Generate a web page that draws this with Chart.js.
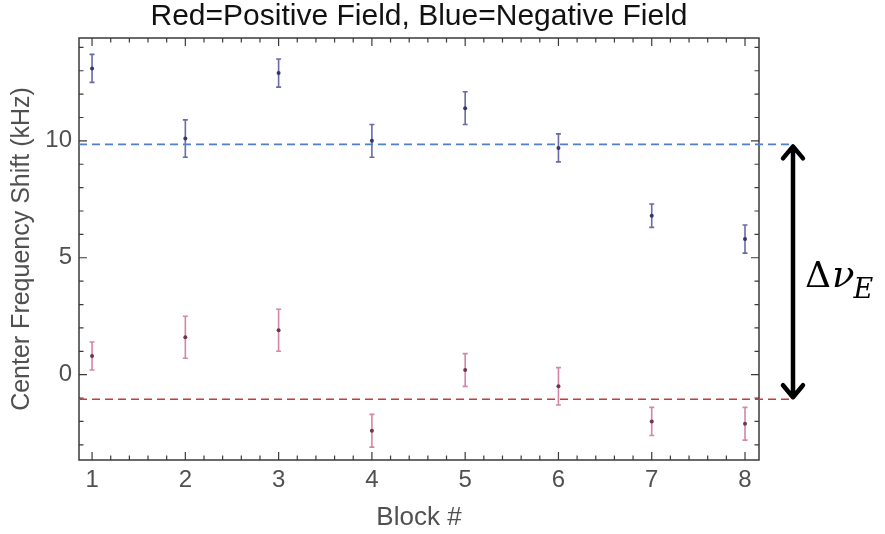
<!DOCTYPE html>
<html lang="en">
<head>
<meta charset="UTF-8" />
<title>Center Frequency Shift by Block</title>
<script src="https://cdn.jsdelivr.net/npm/chart.js"></script>
<style>
  html, body { margin: 0; padding: 0; background: #fff; }
  #wrap { width: 885px; height: 534px; }
</style>
</head>
<body>
<div id="wrap"><canvas id="shiftChart"></canvas></div>
<script>
  // data (kHz)
  const blocks = [1, 2, 3, 4, 5, 6, 7, 8];
  const negField = [13.1, 10.1, 12.9, 10.0, 11.4, 9.7, 6.8, 5.8];
  const negErr = [0.6, 0.8, 0.6, 0.7, 0.7, 0.6, 0.5, 0.6];
  const posField = [0.8, 1.6, 1.9, -2.4, 0.2, -0.5, -2.0, -2.1];
  const posErr = [0.6, 0.9, 0.9, 0.7, 0.7, 0.8, 0.6, 0.7];
  const negMean = 9.85;
  const posMean = -1.05;
  const xMajor = [1, 2, 3, 4, 5, 6, 7, 8];
  const yMajor = [0, 5, 10];

  const FRAME = '#3a3a3a';
  const TEXT = '#505050';
  const SANS = '"Liberation Sans", Arial, sans-serif';

  const toPoints = (vals) => blocks.map((b, i) => ({ x: b, y: vals[i] }));

  // error bars under the points
  const errorBars = {
    id: 'errorBars',
    beforeDatasetsDraw(chart) {
      const { ctx, scales: { x, y } } = chart;
      chart.data.datasets.forEach(ds => {
        if (!ds.errors) return;
        ctx.save();
        ctx.strokeStyle = ds.barColor;
        ctx.lineWidth = 1.6;
        ds.data.forEach((p, k) => {
          const px = x.getPixelForValue(p.x);
          const top = y.getPixelForValue(p.y + ds.errors[k]);
          const bot = y.getPixelForValue(p.y - ds.errors[k]);
          ctx.beginPath();
          ctx.moveTo(px, top); ctx.lineTo(px, bot);
          ctx.moveTo(px - 2.5, top); ctx.lineTo(px + 2.5, top);
          ctx.moveTo(px - 2.5, bot); ctx.lineTo(px + 2.5, bot);
          ctx.stroke();
        });
        ctx.restore();
      });
    }
  };

  // Mathematica-style frame with inward ticks on all sides
  const frame = {
    id: 'frame',
    beforeDatasetsDraw(chart) {
      const { ctx, chartArea: a, scales: { x, y } } = chart;
      ctx.save();
      ctx.strokeStyle = FRAME;
      ctx.lineWidth = 1.5;
      ctx.strokeRect(a.left, a.top, a.right - a.left, a.bottom - a.top);
      ctx.lineWidth = 1.2;
      ctx.beginPath();
      for (let k = Math.ceil(x.min * 5); k <= Math.floor(x.max * 5); k++) {
        const px = x.getPixelForValue(k / 5);
        const len = k % 5 === 0 ? 8 : 4.5;
        ctx.moveTo(px, a.bottom); ctx.lineTo(px, a.bottom - len);
        ctx.moveTo(px, a.top); ctx.lineTo(px, a.top + len);
      }
      for (let k = Math.ceil(y.min); k <= Math.floor(y.max); k++) {
        const py = y.getPixelForValue(k);
        const len = k % 5 === 0 ? 8 : 4.5;
        ctx.moveTo(a.left, py); ctx.lineTo(a.left + len, py);
        ctx.moveTo(a.right, py); ctx.lineTo(a.right - len, py);
      }
      ctx.stroke();
      ctx.restore();
    }
  };

  // mean lines, arrow and the splitting label
  const annotate = {
    id: 'annotate',
    afterDraw(chart) {
      const { ctx, chartArea: a, scales: { y } } = chart;
      const yNeg = y.getPixelForValue(negMean);
      const yPos = y.getPixelForValue(posMean);
      const xEnd = a.right + 34;
      ctx.save();
      ctx.lineWidth = 1.6;
      ctx.setLineDash([8, 5]);
      ctx.strokeStyle = '#4f7fc9';
      ctx.beginPath(); ctx.moveTo(a.left, yNeg); ctx.lineTo(xEnd, yNeg); ctx.stroke();
      ctx.strokeStyle = '#c83a3a';
      ctx.beginPath(); ctx.moveTo(a.left, yPos); ctx.lineTo(xEnd, yPos); ctx.stroke();
      ctx.setLineDash([]);

      const ax = a.right + 34;
      const t = yNeg + 2, b = yPos - 2;
      ctx.strokeStyle = '#000';
      ctx.lineWidth = 4.5;
      ctx.lineCap = 'round';
      ctx.lineJoin = 'round';
      ctx.beginPath();
      ctx.moveTo(ax, t + 2); ctx.lineTo(ax, b - 2);
      ctx.moveTo(ax - 10, t + 12); ctx.lineTo(ax, t); ctx.lineTo(ax + 10, t + 12);
      ctx.moveTo(ax - 10, b - 12); ctx.lineTo(ax, b); ctx.lineTo(ax + 10, b - 12);
      ctx.stroke();

      const mid = (yNeg + yPos) / 2;
      let tx = ax + 12;
      ctx.fillStyle = '#000';
      ctx.textBaseline = 'alphabetic';
      ctx.font = '36px "DejaVu Serif"';
      ctx.fillText('\u0394', tx, mid + 15);
      tx += ctx.measureText('\u0394').width + 1;
      ctx.font = 'italic 37px "DejaVu Serif"';
      ctx.fillText('\u03bd', tx, mid + 15);
      tx += ctx.measureText('\u03bd').width - 1;
      ctx.font = 'italic 27px "DejaVu Serif"';
      ctx.fillText('E', tx, mid + 26);
      ctx.restore();
    }
  };

  new Chart(document.getElementById('shiftChart'), {
    type: 'scatter',
    data: {
      datasets: [
        {
          label: 'Negative Field',
          data: toPoints(negField),
          errors: negErr,
          barColor: '#6a6aa8',
          pointRadius: 2,
          pointBackgroundColor: '#34346e',
          pointBorderWidth: 0
        },
        {
          label: 'Positive Field',
          data: toPoints(posField),
          errors: posErr,
          barColor: '#d486a6',
          pointRadius: 2,
          pointBackgroundColor: '#6e3450',
          pointBorderWidth: 0
        }
      ]
    },
    plugins: [frame, errorBars, annotate],
    options: {
      responsive: true,
      maintainAspectRatio: false,
      animation: false,
      layout: { padding: { left: 0, right: 126, top: 0, bottom: 0 } },
      plugins: {
        legend: { display: false },
        tooltip: { enabled: false },
        title: {
          display: true,
          fullSize: false,
          text: 'Red=Positive Field, Blue=Negative Field',
          color: '#111',
          font: { family: SANS, size: 30, weight: 'normal', lineHeight: 1.1 },
          padding: { top: 0, bottom: 5 }
        }
      },
      scales: {
        x: {
          type: 'linear',
          min: 0.86,
          max: 8.15,
          grid: { display: false, drawTicks: false },
          border: { display: false },
          afterBuildTicks: s => { s.ticks = xMajor.map(v => ({ value: v })); },
          afterFit: s => { s.height = 74; },
          ticks: {
            color: TEXT,
            padding: 6,
            maxRotation: 0,
            font: { family: SANS, size: 24 }
          },
          title: {
            display: true,
            text: 'Block #',
            color: TEXT,
            padding: { top: 0, bottom: 1 },
            font: { family: SANS, size: 26 }
          }
        },
        y: {
          type: 'linear',
          min: -3.65,
          max: 14.4,
          grid: { display: false, drawTicks: false },
          border: { display: false },
          afterBuildTicks: s => { s.ticks = yMajor.map(v => ({ value: v })); },
          afterFit: s => { s.width = 79; },
          ticks: {
            color: TEXT,
            padding: 7,
            font: { family: SANS, size: 24 }
          },
          title: {
            display: true,
            text: 'Center Frequency Shift (kHz)',
            color: TEXT,
            padding: { top: 7, bottom: 0 },
            font: { family: SANS, size: 25 }
          }
        }
      }
    }
  });
</script>
</body>
</html>
